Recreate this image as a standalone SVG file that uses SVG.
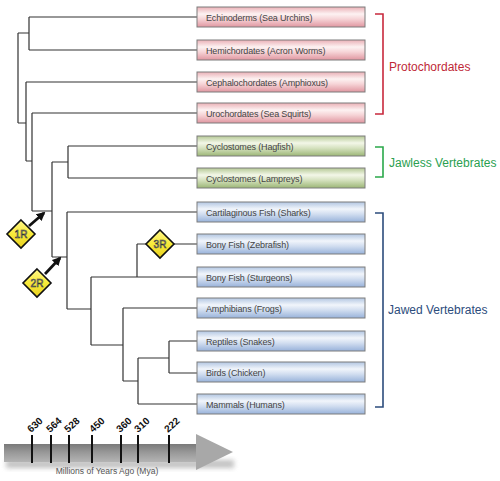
<svg xmlns="http://www.w3.org/2000/svg" width="500" height="481" viewBox="0 0 500 481">
<defs>
<linearGradient id="gRed" x1="0" y1="0" x2="0" y2="1">
<stop offset="0" stop-color="#eab0b6"/><stop offset="0.35" stop-color="#fdf2f2"/><stop offset="0.6" stop-color="#f6d4d7"/><stop offset="1" stop-color="#e096a0"/>
</linearGradient>
<linearGradient id="gGreen" x1="0" y1="0" x2="0" y2="1">
<stop offset="0" stop-color="#b4c894"/><stop offset="0.35" stop-color="#f3f7e8"/><stop offset="0.6" stop-color="#d6e2c0"/><stop offset="1" stop-color="#9cb676"/>
</linearGradient>
<linearGradient id="gBlue" x1="0" y1="0" x2="0" y2="1">
<stop offset="0" stop-color="#b2c6e2"/><stop offset="0.35" stop-color="#f1f5fb"/><stop offset="0.6" stop-color="#d2def0"/><stop offset="1" stop-color="#98b2da"/>
</linearGradient>
<linearGradient id="gDia" x1="0" y1="0" x2="0" y2="1">
<stop offset="0" stop-color="#fff68a"/><stop offset="0.5" stop-color="#f8ea3a"/><stop offset="1" stop-color="#e8d020"/>
</linearGradient>
<linearGradient id="gBand" x1="0" y1="0" x2="0" y2="1">
<stop offset="0" stop-color="#7a7a7a"/><stop offset="0.5" stop-color="#9a9a9a"/><stop offset="1" stop-color="#b4b4b4"/>
</linearGradient>
<filter id="blur" x="-20%" y="-50%" width="140%" height="200%"><feGaussianBlur stdDeviation="2.5"/></filter>
<marker id="ah" viewBox="0 0 10 10" refX="8" refY="5" markerWidth="3.2" markerHeight="3.2" orient="auto">
<path d="M0,0 L10,5 L0,10 Z" fill="#111"/>
</marker>
<style>
.box{stroke:#7c7c7c;stroke-width:1}
.red{fill:url(#gRed)}
.green{fill:url(#gGreen)}
.blue{fill:url(#gBlue)}
.bt{font-family:"Liberation Sans",Arial,sans-serif;font-size:9px;letter-spacing:-0.15px;fill:#444}
.tree{fill:none;stroke:#333;stroke-width:1.2}
.dia{fill:url(#gDia);stroke:#111;stroke-width:1.6}
.dt{font-family:"Liberation Sans",Arial,sans-serif;font-size:10px;fill:#f4f0d0;stroke:#333;stroke-width:0.6;text-anchor:middle}
.arr{stroke:#111;stroke-width:2.8;marker-end:url(#ah)}
.brk{fill:none;stroke-width:1.6}
.lab{font-family:"Liberation Sans",Arial,sans-serif;font-size:12px}
.tick{stroke:#111;stroke-width:2}
.yr{font-family:"Liberation Sans",Arial,sans-serif;font-size:10px;font-weight:bold;fill:#111}
</style>
</defs>
<rect width="500" height="481" fill="#ffffff"/>

<g id="connectors">
<path class="tree" d="M18,33 V123 M18,33 H29 M29,17 V50 M29,17 H197 M29,50 H197 M18,123 H26 M26,82 V161 M26,82 H197 M26,161 H32 M32,113 V211 M32,113 H197 M32,211 H52 M52,162 V257 M52,162 H68 M68,146 V178 M68,146 H197 M68,178 H197 M52,257 H67 M67,212 V309 M67,212 H197 M67,309 H91 M91,277 V345 M91,277 H197 M137,244 V277 M137,244 H146 M174,244 H197 M91,345 H123 M123,308 V381 M123,308 H197 M123,381 H138 M138,358 V404 M138,358 H169 M169,341 V373 M169,341 H197 M169,373 H197 M138,404 H197"/>
<line class="arr" x1="29" y1="226" x2="44" y2="213"/>
<line class="arr" x1="45" y1="274" x2="60" y2="258"/>
</g>

<g id="n-echinoderms"><rect class="box red" x="197" y="7" width="168" height="20"/><text class="bt" x="206" y="20.5">Echinoderms (Sea Urchins)</text></g>
<g id="n-hemichordates"><rect class="box red" x="197" y="40" width="168" height="20"/><text class="bt" x="206" y="53.5">Hemichordates (Acron Worms)</text></g>
<g id="n-cephalochordates"><rect class="box red" x="197" y="72" width="168" height="20"/><text class="bt" x="206" y="85.5">Cephalochordates (Amphioxus)</text></g>
<g id="n-urochordates"><rect class="box red" x="197" y="103" width="168" height="20"/><text class="bt" x="206" y="116.5">Urochordates (Sea Squirts)</text></g>
<g id="n-hagfish"><rect class="box green" x="197" y="136" width="168" height="20"/><text class="bt" x="206" y="149.5">Cyclostomes (Hagfish)</text></g>
<g id="n-lampreys"><rect class="box green" x="197" y="168" width="168" height="20"/><text class="bt" x="206" y="181.5">Cyclostomes (Lampreys)</text></g>
<g id="n-sharks"><rect class="box blue" x="197" y="202" width="168" height="20"/><text class="bt" x="206" y="215.5">Cartilaginous Fish (Sharks)</text></g>
<g id="n-zebrafish"><rect class="box blue" x="197" y="234" width="168" height="20"/><text class="bt" x="206" y="247.5">Bony Fish (Zebrafish)</text></g>
<g id="n-sturgeons"><rect class="box blue" x="197" y="267" width="168" height="20"/><text class="bt" x="206" y="280.5">Bony Fish (Sturgeons)</text></g>
<g id="n-frogs"><rect class="box blue" x="197" y="298" width="168" height="20"/><text class="bt" x="206" y="311.5">Amphibians (Frogs)</text></g>
<g id="n-snakes"><rect class="box blue" x="197" y="331" width="168" height="20"/><text class="bt" x="206" y="344.5">Reptiles (Snakes)</text></g>
<g id="n-chicken"><rect class="box blue" x="197" y="362" width="168" height="20"/><text class="bt" x="206" y="375.5">Birds (Chicken)</text></g>
<g id="n-humans"><rect class="box blue" x="197" y="394" width="168" height="20"/><text class="bt" x="206" y="407.5">Mammals (Humans)</text></g>

<g id="d-1R"><path class="dia" d="M21,220 L35,234 L21,248 L7,234 Z"/><text class="dt" x="21" y="237.5">1R</text></g>
<g id="d-2R"><path class="dia" d="M37,269 L51,283 L37,297 L23,283 Z"/><text class="dt" x="37" y="286.5">2R</text></g>
<g id="d-3R"><path class="dia" d="M160,230 L174,244 L160,258 L146,244 Z"/><text class="dt" x="160" y="247.5">3R</text></g>

<g id="g-protochordates">
<path class="brk" stroke="#c8283c" d="M375,14 H383 V114 H375"/>
<text class="lab" fill="#c02838" x="389" y="71">Protochordates</text>
</g>
<g id="g-jawless">
<path class="brk" stroke="#2aa84a" d="M375,147 H383 V177 H375"/>
<text class="lab" fill="#2aa050" x="389" y="167">Jawless Vertebrates</text>
</g>
<g id="g-jawed">
<path class="brk" stroke="#2c4c7c" d="M375,213 H383 V407 H375"/>
<text class="lab" fill="#2c4c7c" x="388" y="314">Jawed Vertebrates</text>
</g>

<g id="timeline">
<rect x="6" y="460" width="228" height="8" fill="#999" opacity="0.6" filter="url(#blur)"/>
<rect x="4" y="444" width="194" height="18" fill="url(#gBand)"/>
<path d="M196,434 L233,452 L196,470 Z" fill="#a8a8a8"/>
<line class="tick" x1="32" y1="435" x2="32" y2="463"/>
<line class="tick" x1="51" y1="435" x2="51" y2="463"/>
<line class="tick" x1="69" y1="435" x2="69" y2="463"/>
<line class="tick" x1="92" y1="435" x2="92" y2="463"/>
<line class="tick" x1="121" y1="435" x2="121" y2="463"/>
<line class="tick" x1="138" y1="435" x2="138" y2="463"/>
<line class="tick" x1="169" y1="435" x2="169" y2="463"/>
<text class="yr" transform="translate(31,433) rotate(-42)">630</text>
<text class="yr" transform="translate(50,433) rotate(-42)">564</text>
<text class="yr" transform="translate(68,433) rotate(-42)">528</text>
<text class="yr" transform="translate(93,433) rotate(-42)">450</text>
<text class="yr" transform="translate(120,433) rotate(-42)">360</text>
<text class="yr" transform="translate(138,433) rotate(-42)">310</text>
<text class="yr" transform="translate(168,433) rotate(-42)">222</text>
<text x="107" y="474" text-anchor="middle" font-family="Liberation Sans, Arial, sans-serif" font-size="8.5" fill="#555">Millions of Years Ago (Mya)</text>
</g>
</svg>
